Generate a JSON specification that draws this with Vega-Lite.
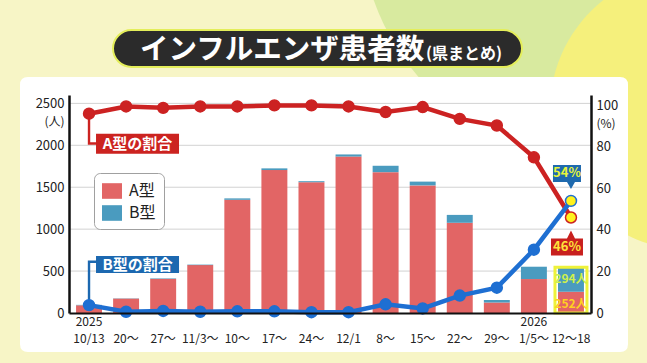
{
  "$schema": "https://vega.github.io/schema/vega-lite/v6.json",
  "width": 522,
  "height": 218,
  "autosize": {"type": "none"},
  "padding": {"left": 69, "top": 95, "right": 56, "bottom": 50},
  "background": "#F7F5C6",
  "config": {
    "font": "Noto Sans CJK JP",
    "view": {"stroke": null},
    "scale": {"bandPaddingInner": 0.3, "bandPaddingOuter": 0.19}
  },
  "datasets": {
    "bars": [
      {"week": "10/13", "type": "A型", "count": 92}, {"week": "10/13", "type": "B型", "count": 5},
      {"week": "20〜", "type": "A型", "count": 172}, {"week": "20〜", "type": "B型", "count": 3},
      {"week": "27〜", "type": "A型", "count": 407}, {"week": "27〜", "type": "B型", "count": 6},
      {"week": "11/3〜", "type": "A型", "count": 571}, {"week": "11/3〜", "type": "B型", "count": 6},
      {"week": "10〜", "type": "A型", "count": 1350}, {"week": "10〜", "type": "B型", "count": 17},
      {"week": "17〜", "type": "A型", "count": 1705}, {"week": "17〜", "type": "B型", "count": 20},
      {"week": "24〜", "type": "A型", "count": 1560}, {"week": "24〜", "type": "B型", "count": 12},
      {"week": "12/1", "type": "A型", "count": 1866}, {"week": "12/1", "type": "B型", "count": 25},
      {"week": "8〜", "type": "A型", "count": 1680}, {"week": "8〜", "type": "B型", "count": 76},
      {"week": "15〜", "type": "A型", "count": 1522}, {"week": "15〜", "type": "B型", "count": 45},
      {"week": "22〜", "type": "A型", "count": 1076}, {"week": "22〜", "type": "B型", "count": 94},
      {"week": "29〜", "type": "A型", "count": 125}, {"week": "29〜", "type": "B型", "count": 30},
      {"week": "1/5〜", "type": "A型", "count": 405}, {"week": "1/5〜", "type": "B型", "count": 147},
      {"week": "12〜18", "type": "A型", "count": 252}, {"week": "12〜18", "type": "B型", "count": 294}
    ],
    "pct": [
      {"week": "10/13", "series": "A型の割合", "pct": 96},
      {"week": "20〜", "series": "A型の割合", "pct": 99.5},
      {"week": "27〜", "series": "A型の割合", "pct": 98.8},
      {"week": "11/3〜", "series": "A型の割合", "pct": 99.5},
      {"week": "10〜", "series": "A型の割合", "pct": 99.5},
      {"week": "17〜", "series": "A型の割合", "pct": 100},
      {"week": "24〜", "series": "A型の割合", "pct": 100},
      {"week": "12/1", "series": "A型の割合", "pct": 99.5},
      {"week": "8〜", "series": "A型の割合", "pct": 96.8},
      {"week": "15〜", "series": "A型の割合", "pct": 99.2},
      {"week": "22〜", "series": "A型の割合", "pct": 93.5},
      {"week": "29〜", "series": "A型の割合", "pct": 90.3},
      {"week": "1/5〜", "series": "A型の割合", "pct": 75},
      {"week": "12〜18", "series": "A型の割合", "pct": 46},
      {"week": "10/13", "series": "B型の割合", "pct": 3.8},
      {"week": "20〜", "series": "B型の割合", "pct": 0.6},
      {"week": "27〜", "series": "B型の割合", "pct": 1},
      {"week": "11/3〜", "series": "B型の割合", "pct": 0.6},
      {"week": "10〜", "series": "B型の割合", "pct": 0.8},
      {"week": "17〜", "series": "B型の割合", "pct": 0.8},
      {"week": "24〜", "series": "B型の割合", "pct": 0.4},
      {"week": "12/1", "series": "B型の割合", "pct": 0.4},
      {"week": "8〜", "series": "B型の割合", "pct": 4.2},
      {"week": "15〜", "series": "B型の割合", "pct": 2.2},
      {"week": "22〜", "series": "B型の割合", "pct": 8.4},
      {"week": "29〜", "series": "B型の割合", "pct": 12.2},
      {"week": "1/5〜", "series": "B型の割合", "pct": 30.5},
      {"week": "12〜18", "series": "B型の割合", "pct": 54}
    ]
  },
  "layer": [
    {
      "data": {"values": [{}]},
      "mark": {"type": "point", "shape": "M0.85,-0.4733A0.4,0.4 0 1 0 0.05,-0.4733A0.4,0.4 0 1 0 0.85,-0.4733Z", "size": 1440000, "filled": true, "fill": "#D8EA9F", "opacity": 1, "strokeWidth": 0},
      "encoding": {}
    },
    {
      "data": {"values": [{}]},
      "mark": {"type": "point", "shape": "M0.8333,-0.1567A0.2333,0.2333 0 1 0 0.3667,-0.1567A0.2333,0.2333 0 1 0 0.8333,-0.1567Z", "size": 1440000, "filled": true, "fill": "#F5F07C", "opacity": 1, "strokeWidth": 0},
      "encoding": {}
    },
    {
      "data": {"values": [{}]},
      "mark": {"type": "point", "shape": "M-0.94375,-0.396875H0.90625Q0.93125,-0.396875 0.93125,-0.371875V0.4375Q0.93125,0.4625 0.90625,0.4625H-0.94375Q-0.96875,0.4625 -0.96875,0.4375V-0.371875Q-0.96875,-0.396875 -0.94375,-0.396875Z", "size": 409600, "filled": true, "fill": "#FFFFFF", "opacity": 1, "strokeWidth": 0},
      "encoding": {}
    },
    {
      "data": {"values": [{}]},
      "mark": {"type": "point", "shape": "M-0.397,-0.348H0.347A0.037,0.037 0 0 1 0.347,-0.274H-0.397A0.037,0.037 0 0 1 -0.397,-0.348Z", "size": 1000000, "filled": true, "fill": "#2B2B2B", "opacity": 1, "stroke": "#E4EE5A", "strokeWidth": 2},
      "encoding": {}
    },
    {
      "data": {"values": [{"title": "インフルエンザ患者数"}]},
      "mark": {"type": "text", "align": "left", "baseline": "alphabetic", "dx": -190, "dy": -145, "fontSize": 28.5, "fontWeight": "bold", "fill": "#FFFFFF"},
      "encoding": {"text": {"field": "title"}}
    },
    {
      "data": {"values": [{"sub": "(県まとめ)"}]},
      "mark": {"type": "text", "align": "left", "baseline": "alphabetic", "dx": 96, "dy": -145, "fontSize": 16, "fontWeight": "bold", "fill": "#FFFFFF"},
      "encoding": {"text": {"field": "sub"}}
    },
    {
      "data": {"name": "bars"},
      "layer": [
        {
          "data": {"values": [{"tick": 500}, {"tick": 1000}, {"tick": 1500}, {"tick": 2000}, {"tick": 2500}]},
          "mark": {"type": "rule", "color": "#D2D2D2", "strokeWidth": 1},
          "encoding": {"y": {"field": "tick", "type": "quantitative", "title": "(人)", "scale": {"domain": [0, 2600], "nice": false}}}
        },
        {
          "mark": {"type": "bar"},
          "encoding": {
            "x": {"field": "week", "type": "nominal", "sort": null, "title": null,
              "axis": {"labelAngle": 0, "ticks": false, "domainColor": "#111111", "domainWidth": 2, "labelFontSize": 12, "labelColor": "#222222", "labelPadding": 3, "labelLineHeight": 17, "zindex": 1,
                "labelExpr": "datum.value == '10/13' ? ['2025', '10/13'] : datum.value == '1/5〜' ? ['2026', '1/5〜'] : ['', datum.value]"}},
            "y": {"field": "count", "type": "quantitative", "title": "(人)", "scale": {"domain": [0, 2600], "nice": false},
              "axis": {"orient": "left", "values": [0, 500, 1000, 1500, 2000, 2500], "format": "d", "ticks": false, "grid": false, "domainColor": "#111111", "domainWidth": 2.5, "labelFontSize": 13, "labelColor": "#222222", "labelPadding": 5, "zindex": 1,
                "titleAngle": 0, "titleAlign": "right", "titleBaseline": "middle", "titleX": -5, "titleY": 26, "titleFontSize": 12, "titleFontWeight": "normal", "titleColor": "#222222"}},
            "color": {"field": "type", "type": "nominal", "scale": {"domain": ["A型", "B型"], "range": ["#E26565", "#4A9BBF"]},
              "legend": {"title": null, "orient": "none", "legendX": 25, "legendY": 78, "symbolType": "M-1,-0.78H1V0.78H-1Z", "symbolSize": 400, "symbolStrokeWidth": 0, "labelFontSize": 16, "labelColor": "#222222", "labelOffset": 7, "rowPadding": 4, "padding": 8, "fillColor": "#FFFFFF", "strokeColor": "#A0A0A0", "cornerRadius": 6}},
            "order": {"field": "type", "sort": "ascending"}
          }
        },
        {
          "transform": [{"filter": "datum.week == '12〜18'"}],
          "mark": {"type": "bar", "width": 32, "fillOpacity": 0, "stroke": "#EEF23A", "strokeWidth": 3},
          "encoding": {
            "x": {"field": "week", "type": "nominal", "sort": null},
            "y": {"aggregate": "sum", "field": "count", "type": "quantitative", "title": "(人)"}
          }
        },
        {
          "transform": [{"filter": "datum.week == '12〜18'"}],
          "mark": {"type": "text", "dy": 12, "fontSize": 12, "fontWeight": "bold", "text": {"expr": "datum.count + '人'"}},
          "encoding": {
            "x": {"field": "week", "type": "nominal", "sort": null},
            "y": {"field": "count", "type": "quantitative", "stack": "zero", "title": "(人)"},
            "detail": {"field": "type", "type": "nominal"},
            "order": {"field": "type", "sort": "ascending"},
            "color": {"condition": {"test": "datum.type == 'A型'", "value": "#FFD21F"}, "value": "#CFF04A"}
          }
        }
      ]
    },
    {
      "data": {"name": "pct"},
      "layer": [
        {
          "transform": [{"filter": "datum.week == '10/13' && datum.series == 'A型の割合'"}],
          "mark": {"type": "point", "shape": "M-0.012,0H0.012V0.285H0.07V0.2H0.9V0.4H0.07V0.31H-0.012Z", "size": 40000, "filled": true, "fill": "#CC2320", "opacity": 1, "strokeWidth": 0},
          "encoding": {
            "x": {"field": "week", "type": "nominal", "sort": null},
            "y": {"field": "pct", "type": "quantitative", "title": "(%)", "scale": {"domain": [0, 105], "nice": false}}
          }
        },
        {
          "transform": [{"filter": "datum.week == '10/13' && datum.series == 'A型の割合'"}],
          "mark": {"type": "text", "dx": 48.5, "dy": 30, "fontSize": 15, "fontWeight": "bold", "fill": "#FFFFFF"},
          "encoding": {
            "x": {"field": "week", "type": "nominal", "sort": null},
            "y": {"field": "pct", "type": "quantitative", "title": "(%)"},
            "text": {"field": "series"}
          }
        },
        {
          "transform": [{"filter": "datum.week == '10/13' && datum.series == 'B型の割合'"}],
          "mark": {"type": "point", "shape": "M-0.012,0H0.012V-0.42H0.07V-0.32H0.9V-0.49H0.07V-0.445H-0.012Z", "size": 40000, "filled": true, "fill": "#1C68B0", "opacity": 1, "strokeWidth": 0},
          "encoding": {
            "x": {"field": "week", "type": "nominal", "sort": null},
            "y": {"field": "pct", "type": "quantitative", "title": "(%)"}
          }
        },
        {
          "transform": [{"filter": "datum.week == '10/13' && datum.series == 'B型の割合'"}],
          "mark": {"type": "text", "dx": 48.5, "dy": -40.5, "fontSize": 15, "fontWeight": "bold", "fill": "#FFFFFF"},
          "encoding": {
            "x": {"field": "week", "type": "nominal", "sort": null},
            "y": {"field": "pct", "type": "quantitative", "title": "(%)"},
            "text": {"field": "series"}
          }
        },
        {
          "mark": {"type": "line", "strokeWidth": 4.5},
          "encoding": {
            "x": {"field": "week", "type": "nominal", "sort": null},
            "y": {"field": "pct", "type": "quantitative", "title": "(%)", "scale": {"domain": [0, 105], "nice": false},
              "axis": {"orient": "right", "values": [0, 20, 40, 60, 80, 100], "format": "d", "ticks": false, "grid": false, "domainColor": "#111111", "domainWidth": 2.5, "labelFontSize": 13, "labelColor": "#222222", "labelPadding": 5, "zindex": 1,
                "titleAngle": 0, "titleAlign": "left", "titleBaseline": "middle", "titleX": 5, "titleY": 28.5, "titleFontSize": 12, "titleFontWeight": "normal", "titleColor": "#222222"}},
            "stroke": {"field": "series", "type": "nominal", "scale": {"domain": ["A型の割合", "B型の割合"], "range": ["#CC2222", "#1E6FD2"]}, "legend": null}
          }
        },
        {
          "mark": {"type": "point", "filled": true, "size": 120, "opacity": 1, "strokeWidth": 1.5},
          "encoding": {
            "x": {"field": "week", "type": "nominal", "sort": null},
            "y": {"field": "pct", "type": "quantitative", "title": "(%)"},
            "fill": {"condition": {"test": "datum.week == '12〜18'", "value": "#FFF21E"}, "field": "series", "type": "nominal", "scale": {"domain": ["A型の割合", "B型の割合"], "range": ["#CC2222", "#1E6FD2"]}, "legend": null},
            "stroke": {"field": "series", "type": "nominal", "legend": null}
          }
        },
        {
          "transform": [{"filter": "datum.week == '12〜18' && datum.series == 'B型の割合'"}],
          "mark": {"type": "point", "shape": "M-0.18,-0.36H0.10V-0.19H0.04L0,-0.12L-0.04,-0.19H-0.18Z", "size": 40000, "filled": true, "fill": "#1F6AAE", "opacity": 1, "strokeWidth": 0},
          "encoding": {
            "x": {"field": "week", "type": "nominal", "sort": null},
            "y": {"field": "pct", "type": "quantitative", "title": "(%)"}
          }
        },
        {
          "transform": [{"filter": "datum.week == '12〜18' && datum.series == 'B型の割合'"}],
          "mark": {"type": "text", "dx": -4, "dy": -27.5, "fontSize": 13, "fontWeight": "bold", "fill": "#E8F53A", "text": {"expr": "datum.pct + '%'"}},
          "encoding": {
            "x": {"field": "week", "type": "nominal", "sort": null},
            "y": {"field": "pct", "type": "quantitative", "title": "(%)"}
          }
        },
        {
          "transform": [{"filter": "datum.week == '12〜18' && datum.series == 'A型の割合'"}],
          "mark": {"type": "point", "shape": "M-0.20,0.38H0.12V0.21H0.04L0,0.13L-0.04,0.21H-0.20Z", "size": 40000, "filled": true, "fill": "#C8201E", "opacity": 1, "strokeWidth": 0},
          "encoding": {
            "x": {"field": "week", "type": "nominal", "sort": null},
            "y": {"field": "pct", "type": "quantitative", "title": "(%)"}
          }
        },
        {
          "transform": [{"filter": "datum.week == '12〜18' && datum.series == 'A型の割合'"}],
          "mark": {"type": "text", "dx": -4, "dy": 30, "fontSize": 13, "fontWeight": "bold", "fill": "#FFE23A", "text": {"expr": "datum.pct + '%'"}},
          "encoding": {
            "x": {"field": "week", "type": "nominal", "sort": null},
            "y": {"field": "pct", "type": "quantitative", "title": "(%)"}
          }
        }
      ]
    }
  ],
  "resolve": {"scale": {"y": "independent"}}
}
